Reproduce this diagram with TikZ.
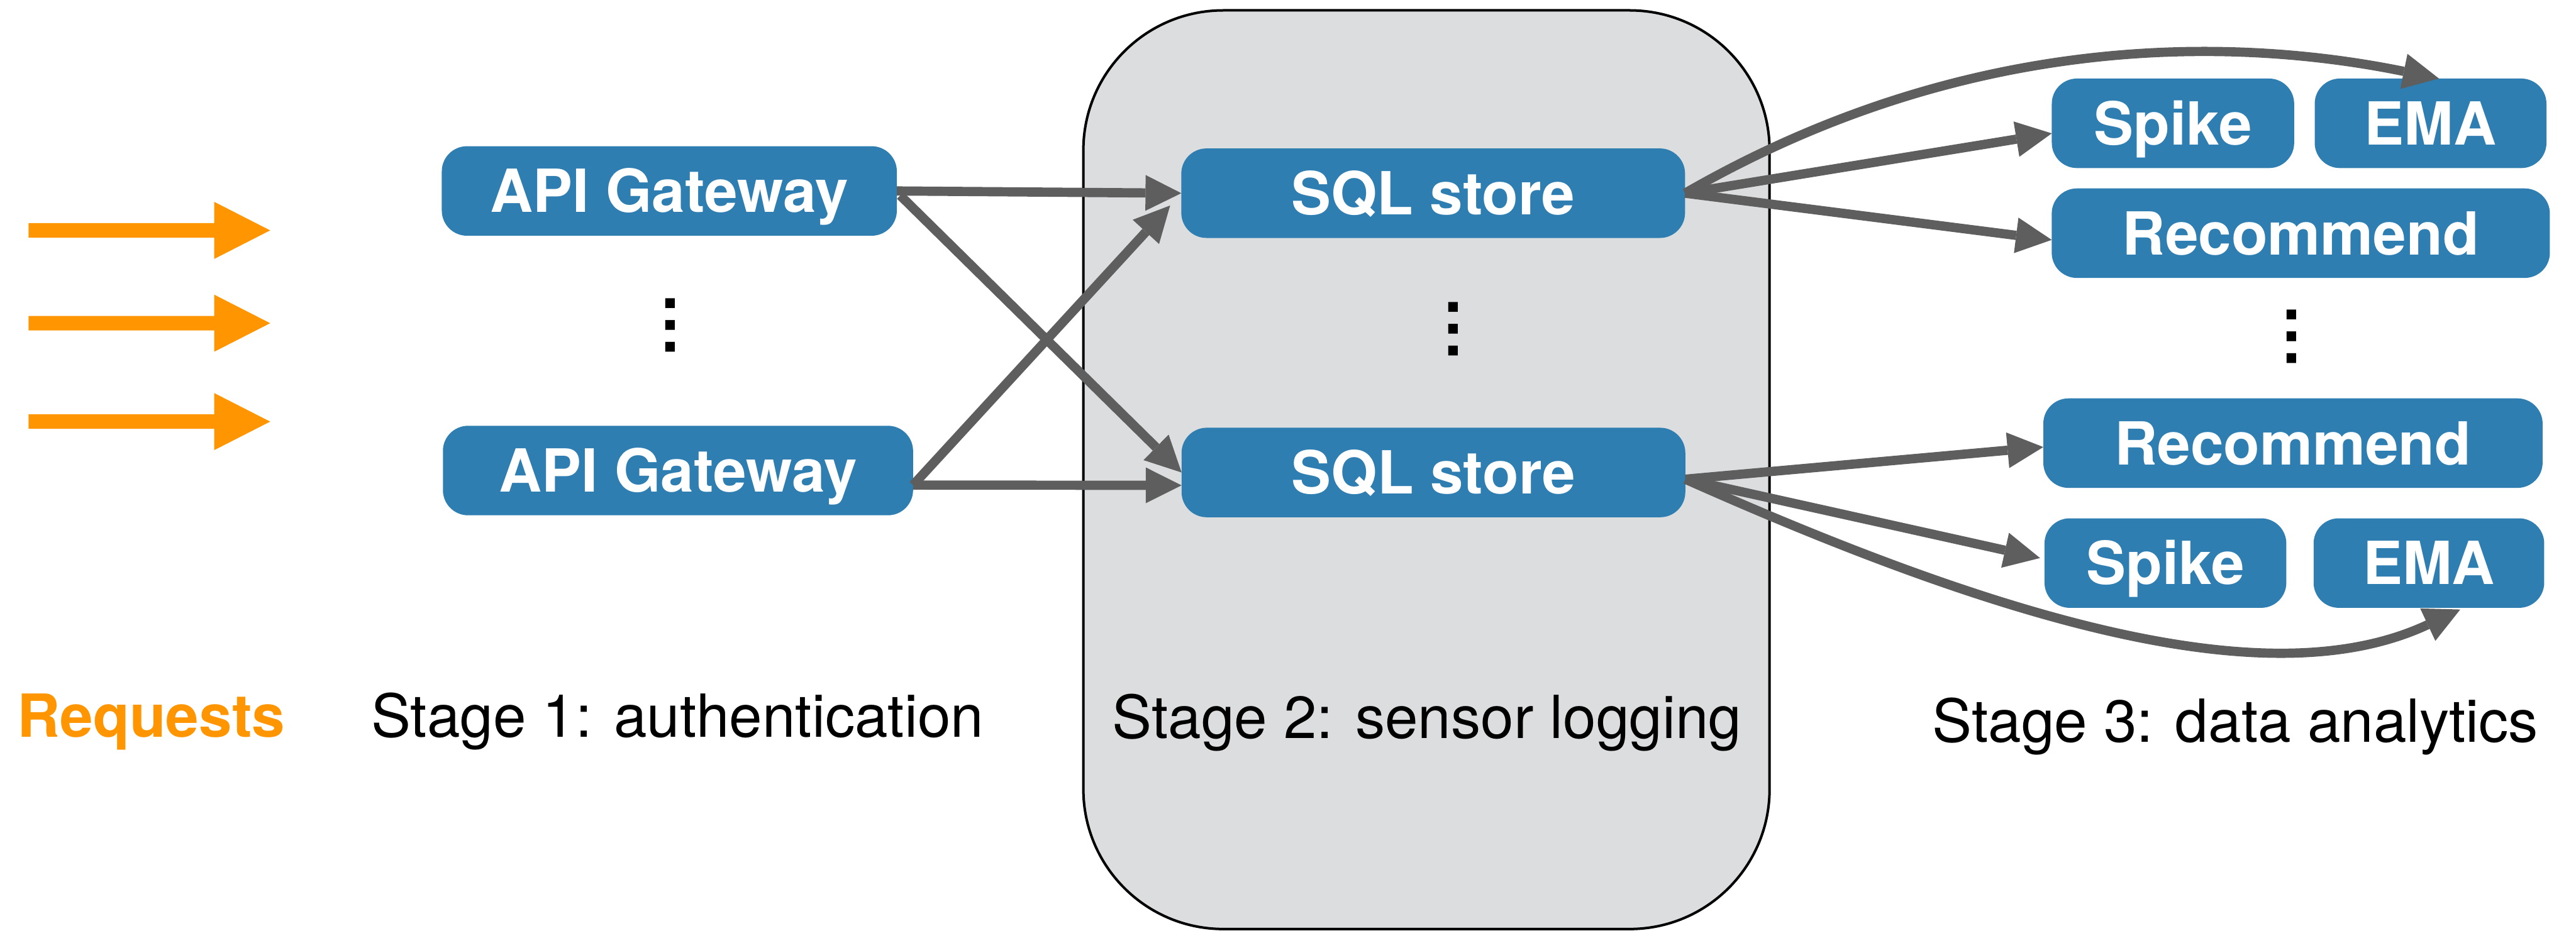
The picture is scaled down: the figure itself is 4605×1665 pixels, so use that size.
\documentclass[tikz,border=0pt]{standalone}
\usepackage{fontspec}
\setmainfont{TeX Gyre Heros}
\usetikzlibrary{arrows.meta,calc}

\definecolor{boxblue}{RGB}{47,126,178}
\definecolor{flowgray}{RGB}{94,94,94}
\definecolor{panelgray}{RGB}{220,221,223}
\definecolor{reqorange}{RGB}{255,149,0}

\begin{document}
\begin{tikzpicture}[x=0.01cm, y=-0.01cm,
  proc/.style={fill=boxblue, rounded corners=0.45cm, text=white,
    font=\bfseries\fontsize{30.2}{36}\selectfont,
    text height=27.8pt, text depth=6pt,
    inner sep=0pt, outer sep=0pt, minimum height=1.6cm},
  flow/.style={draw=flowgray, line width=0.165cm,
    -{Triangle[length=0.64cm, width=0.64cm, line width=0pt]}},
  caption/.style={font=\fontsize{30.2}{36}\selectfont, anchor=base, inner sep=0pt},
  vdots/.style={font=\bfseries\fontsize{33.3}{36}\selectfont, rotate=90, inner sep=0pt},
  panel/.style={draw=black, line width=0.045cm, fill=panelgray,
    rounded corners=2.5cm, inner sep=0pt, outer sep=0pt}
]
\useasboundingbox (0,0) rectangle (4605,1665);

% stage 2 container
\node[panel, minimum width=12.26cm, minimum height=16.42cm] (stagetwo) at (2550,840) {};

% incoming requests
\foreach \c in {412,578,754}{
  \fill[reqorange] (51,\c-13) -- (383,\c-13) -- (383,\c-51) -- (483,\c)
    -- (383,\c+51) -- (383,\c+13) -- (51,\c+13) -- cycle;
}

% stage 1
\node[proc, minimum width=8.13cm] (api1) at (1196.5,341.5) {API Gateway};
\node[proc, minimum width=8.40cm] (api2) at (1212,841.5) {API Gateway};
\node[vdots] (dotsone) at (1198,582) {…};

% stage 2
\node[proc, minimum width=9.00cm] (sql1) at (2562,345.5) {SQL store};
\node[proc, minimum width=9.00cm] (sql2) at (2562.5,845) {SQL store};
\node[vdots] (dotstwo) at (2598,588) {…};

% stage 3
\node[proc, minimum width=4.33cm] (spike1) at (3884.5,220.5) {Spike};
\node[proc, minimum width=4.14cm] (ema1) at (4345,220.5) {EMA};
\node[proc, minimum width=8.90cm] (rec1) at (4113,417) {Recommend};
\node[vdots] (dotsthree) at (4097,602) {…};
\node[proc, minimum width=8.92cm] (rec2) at (4099,792.5) {Recommend};
\node[proc, minimum width=4.32cm] (spike2) at (3871,1007) {Spike};
\node[proc, minimum width=4.12cm] (ema2) at (4342,1007) {EMA};

% captions
\node[caption, text=reqorange, font=\bfseries\fontsize{30.2}{36}\selectfont] (reqlabel) at (270,1318) {Requests};
\node[caption] (stageonelabel) at (1211,1318) {Stage 1: authentication};
\node[caption] (stagetwolabel) at (2551,1320) {Stage 2: sensor logging};
\node[caption] (stagethreelabel) at (3996,1327) {Stage 3: data analytics};

% stage 1 -> stage 2
\coordinate (api1out) at ($(api1.east)+(6,8)$);
\coordinate (api2out) at ($(api2.east)+(0,26)$);
\draw[flow] (api1.east) -- (sql1.west);
\draw[flow] (api1out) -- (sql2.west);
\draw[flow] (api2out) -- ($(sql2.west)+(0,23)$);
\draw[flow] (api2out) -- ($(sql1.south west)+(-20,-58)$);

% stage 2 -> stage 3
\draw[flow] (sql1.east) -- ($(spike1.west)+(0,18)$);
\draw[flow] (sql1.east) -- ($(rec1.west)+(0,12)$);
\draw[flow] (sql1.east) .. controls +(520,-300) and +(-343,-70) .. ($(ema1.north)+(15,0)$);

\coordinate (sql2out) at ($(sql2.east)+(0,12)$);
\draw[flow] (sql2out) -- ($(rec2.west)+(0,7)$);
\draw[flow] (sql2out) -- ($(spike2.west)+(-8,-9)$);
\draw[flow] (sql2out) .. controls +(639,285) and +(-317,148) .. ($(ema2.south)+(56,3)$);
\end{tikzpicture}
\end{document}
